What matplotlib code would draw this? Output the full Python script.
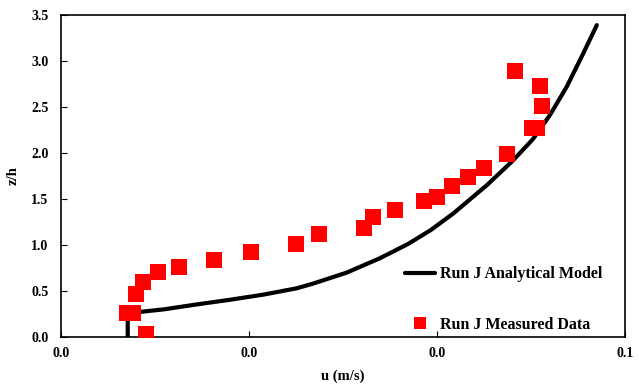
import matplotlib
matplotlib.use("Agg")
import matplotlib.pyplot as plt
from matplotlib.ticker import MultipleLocator, FormatStrFormatter

plt.rcParams['font.family'] = ['Liberation Serif', 'DejaVu Serif']
plt.rcParams['font.weight'] = 'bold'

# analytical model (u in m/s, z/h)
model_u = [0.0071, 0.0071, 0.0086, 0.0109, 0.0145, 0.0180, 0.0215, 0.0251, 0.0268,
           0.0304, 0.0339, 0.0369, 0.0393, 0.0417, 0.0453, 0.0480, 0.0502, 0.0520,
           0.0538, 0.0555, 0.0570]
model_z = [0.00, 0.25, 0.275, 0.30, 0.355, 0.405, 0.46, 0.53, 0.58,
           0.70, 0.855, 1.01, 1.16, 1.34, 1.65, 1.91, 2.15, 2.41,
           2.72, 3.07, 3.39]

# measured data
meas_u = [0.0070, 0.0077, 0.0090, 0.0080, 0.0087, 0.0103, 0.0126, 0.0163, 0.0202,
          0.0250, 0.0274, 0.0322, 0.0332, 0.0355, 0.0386, 0.0400, 0.0416, 0.0433,
          0.0450, 0.0474, 0.0501, 0.0506, 0.0512, 0.0510, 0.0483]
meas_z = [0.26, 0.26, 0.03, 0.47, 0.60, 0.71, 0.76, 0.84, 0.92,
          1.01, 1.12, 1.18, 1.30, 1.38, 1.48, 1.52, 1.64, 1.74,
          1.84, 1.99, 2.27, 2.27, 2.51, 2.73, 2.89]

fig = plt.figure(figsize=(6.39, 3.87), dpi=100)
ax = fig.add_axes([61/639, 1 - 337/387, 564/639, 322/387])

ax.plot(model_u, model_z, color='black', linewidth=3, solid_capstyle='round',
        solid_joinstyle='round', label='Run J Analytical Model', zorder=2)
ax.plot(meas_u, meas_z, linestyle='none', marker='s', markersize=11.5,
        color='red', markeredgewidth=0, label='Run J Measured Data', zorder=3)

ax.set_xlim(0, 0.06)
ax.set_ylim(0, 3.5)
ax.xaxis.set_major_locator(MultipleLocator(0.02))
ax.yaxis.set_major_locator(MultipleLocator(0.5))
ax.xaxis.set_major_formatter(FormatStrFormatter('%.1f'))
ax.yaxis.set_major_formatter(FormatStrFormatter('%.1f'))
ax.tick_params(direction='in', length=4, width=0.8, labelsize=10)
ax.tick_params(axis='x', pad=7)
ax.tick_params(axis='y', pad=9)
for s in ax.spines.values():
    s.set_linewidth(1.2)

ax.set_xlabel('u (m/s)', fontsize=10.5, fontweight='bold', labelpad=7)
ax.set_ylabel('z/h', fontsize=10.5, fontweight='bold', labelpad=8)

leg = ax.legend(loc='upper left', bbox_to_anchor=(0.61, 0.22), frameon=False,
                fontsize=11.5, labelspacing=2.15, handlelength=1.9, handletextpad=0.3,
                borderpad=0, borderaxespad=0, markerscale=0.75)

plt.savefig('out.png', dpi=100)
